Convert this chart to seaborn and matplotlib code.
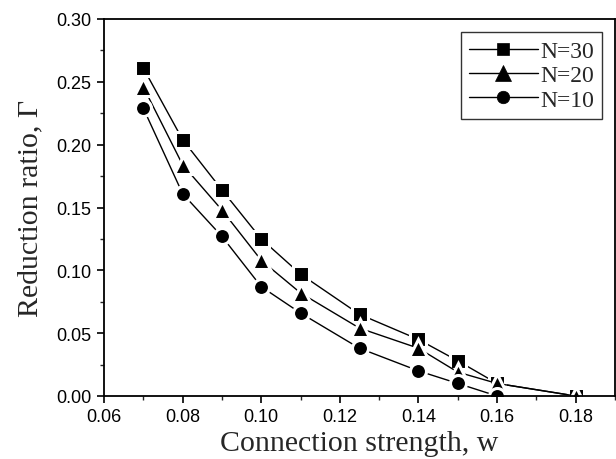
import matplotlib
matplotlib.use("Agg")
import matplotlib.pyplot as plt
import seaborn as sns
import pandas as pd
from matplotlib.ticker import MultipleLocator, FormatStrFormatter

w30 = [0.07, 0.08, 0.09, 0.10, 0.11, 0.125, 0.14, 0.15, 0.16, 0.18]
g30 = [0.261, 0.204, 0.164, 0.125, 0.097, 0.065, 0.045, 0.028, 0.010, 0.0]
w20 = [0.07, 0.08, 0.09, 0.10, 0.11, 0.125, 0.14, 0.15, 0.16, 0.18]
g20 = [0.246, 0.184, 0.148, 0.108, 0.082, 0.054, 0.038, 0.019, 0.010, 0.0]
w10 = [0.07, 0.08, 0.09, 0.10, 0.11, 0.125, 0.14, 0.15, 0.16]
g10 = [0.229, 0.161, 0.127, 0.087, 0.066, 0.038, 0.020, 0.010, 0.0]
labels = ["N=30", "N=20", "N=10"]

df = pd.concat([
    pd.DataFrame({"w": w30, "g": g30, "N": labels[0]}),
    pd.DataFrame({"w": w20, "g": g20, "N": labels[1]}),
    pd.DataFrame({"w": w10, "g": g10, "N": labels[2]}),
])

sns.set_style("ticks")
plt.rcParams["font.family"] = ["Liberation Sans", "DejaVu Sans"]

fig = plt.figure(figsize=(6.16, 4.6), dpi=100)
ax = fig.add_axes([104/616, 63/460, (615-104)/616, (397-20)/460])

marker_map = {"N=30": "s", "N=20": "^", "N=10": "o"}
sns.lineplot(data=df, x="w", y="g", hue="N", style="N", hue_order=labels, style_order=labels,
             palette=["black"]*3, markers=marker_map,
             dashes=False, markersize=11.5, markeredgecolor="white", markeredgewidth=2.2,
             linewidth=1.0, ax=ax, legend=True)

for ln in ax.get_lines():
    if ln.get_marker() == "^":
        ln.set_markersize(13.5)

ax.set_xlim(0.06, 0.19)
ax.set_ylim(0.0, 0.30)
ax.xaxis.set_major_locator(MultipleLocator(0.02))
ax.xaxis.set_minor_locator(MultipleLocator(0.01))
ax.yaxis.set_major_locator(MultipleLocator(0.05))
ax.yaxis.set_minor_locator(MultipleLocator(0.025))
ax.xaxis.set_major_formatter(FormatStrFormatter("%.2f"))
ax.yaxis.set_major_formatter(FormatStrFormatter("%.2f"))
ax.tick_params(axis="both", which="major", direction="out", length=5, width=1.2,
               labelsize=13, colors="black", pad=4)
ax.tick_params(axis="both", which="minor", direction="out", length=3, width=1.0)
for s in ax.spines.values():
    s.set_linewidth(1.3)
    s.set_color("black")

serif = ["Liberation Serif", "DejaVu Serif"]
ax.set_xlabel("Connection strength, w", fontsize=21.5, family=serif, labelpad=3)
ax.set_ylabel("Reduction ratio, Γ", fontsize=21.5, family=serif, labelpad=9)

leg = ax.legend(loc="upper right", bbox_to_anchor=(0.975, 0.965), frameon=True, fancybox=False,
                prop={"family": serif, "size": 17}, handlelength=2.9, handletextpad=0.1,
                labelspacing=0.12, borderpad=0.35, borderaxespad=0)
leg.get_frame().set_edgecolor("black")
leg.get_frame().set_linewidth(1.0)
for h in leg.legend_handles:
    h.set_markeredgecolor("black")
    h.set_markeredgewidth(0.5)
    h.set_markersize(9 if h.get_marker() != "^" else 11)

fig.savefig("out.png", dpi=100)
